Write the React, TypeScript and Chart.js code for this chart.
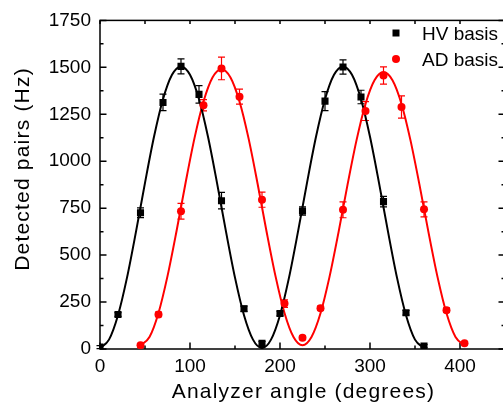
import React, { useEffect, useRef } from 'react';
import { Chart, registerables } from 'chart.js';

Chart.register(...registerables);

// Measured data (HV basis, black squares)
const hvAngles = [0, 20, 45, 70, 90, 110, 135, 160, 180, 200, 225, 250, 270, 290, 315, 340, 360];
const hvCounts = [10, 184, 726, 1313, 1505, 1356, 790, 214, 30, 189, 735, 1320, 1502, 1342, 785, 193, 16];
const hvErrors = [8, 10, 26, 44, 40, 47, 44, 14, 10, 12, 22, 51, 38, 36, 28, 12, 8];

// Measured data (AD basis, red circles)
const adAngles = [45, 65, 90, 115, 135, 155, 180, 205, 225, 245, 270, 295, 315, 335, 360, 385, 405];
const adCounts = [20, 184, 734, 1298, 1494, 1344, 795, 242, 60, 217, 741, 1267, 1457, 1289, 744, 207, 30];
const adErrors = [8, 12, 42, 30, 60, 40, 40, 20, 10, 12, 42, 50, 46, 59, 40, 12, 8];

// Fit curves
const hvFitAngles = [0, 10, 20, 30, 40, 50, 60, 70, 80, 90, 100, 110, 120, 130, 140, 150, 160, 170, 180, 190, 200, 210, 220, 230, 240, 250, 260, 270, 280, 290, 300, 310, 320, 330, 340, 350, 360];
const hvFitCounts = [5, 50, 180, 380, 625, 885, 1130, 1330, 1460, 1505, 1460, 1330, 1130, 885, 625, 380, 180, 50, 5, 50, 180, 380, 625, 885, 1130, 1330, 1460, 1505, 1460, 1330, 1130, 885, 625, 380, 180, 50, 5];

const adFitAngles = [45, 55, 65, 75, 85, 95, 105, 115, 125, 135, 145, 155, 165, 175, 185, 195, 205, 215, 225, 235, 245, 255, 265, 275, 285, 295, 305, 315, 325, 335, 345, 355, 365, 375, 385, 395, 405];
const adFitCounts = [20, 64, 192, 388, 627, 883, 1123, 1318, 1446, 1490, 1446, 1318, 1123, 883, 627, 388, 192, 64, 20, 64, 190, 384, 621, 874, 1111, 1305, 1431, 1475, 1431, 1305, 1111, 874, 621, 384, 190, 64, 20];

// Axis ticks
const xMajorTicks = [0, 100, 200, 300, 400];
const xMinorTicks = [50, 150, 250, 350, 450];
const yMajorTicks = [0, 250, 500, 750, 1000, 1250, 1500, 1750];
const yMinorTicks = [125, 375, 625, 875, 1125, 1375, 1625];

const legendLabels = ['HV basis', 'AD basis'];
const xTitle = 'Analyzer angle (degrees)';
const yTitle = 'Detected pairs (Hz)';

const FONT = "'Liberation Sans', Arial, Helvetica, sans-serif";

const toPts = (xs: number[], ys: number[]) => xs.map((x, i) => ({ x, y: ys[i] }));

const framePlugin = {
  id: 'frameTicks',
  beforeDatasetsDraw(chart: any) {
    const { ctx, chartArea, scales } = chart;
    const { left, right, top, bottom } = chartArea;
    const x = scales.x;
    const y = scales.y;
    ctx.save();
    ctx.strokeStyle = '#000';
    ctx.lineWidth = 1.5;
    ctx.strokeRect(left, top, right - left, bottom - top);
    ctx.beginPath();
    const major = 6.5;
    const minor = 3.5;
    for (const v of xMajorTicks) {
      const px = x.getPixelForValue(v);
      ctx.moveTo(px, bottom); ctx.lineTo(px, bottom - major);
      ctx.moveTo(px, top); ctx.lineTo(px, top + minor);
    }
    for (const v of xMinorTicks) {
      const px = x.getPixelForValue(v);
      ctx.moveTo(px, bottom); ctx.lineTo(px, bottom - minor);
      ctx.moveTo(px, top); ctx.lineTo(px, top + minor);
    }
    for (const v of yMajorTicks) {
      const py = y.getPixelForValue(v);
      ctx.moveTo(left, py); ctx.lineTo(left + major, py);
      ctx.moveTo(right, py); ctx.lineTo(right - major, py);
    }
    for (const v of yMinorTicks) {
      const py = y.getPixelForValue(v);
      ctx.moveTo(left, py); ctx.lineTo(left + minor, py);
      ctx.moveTo(right, py); ctx.lineTo(right - minor, py);
    }
    ctx.stroke();

    // error bars
    const drawErr = (xs: number[], ys: number[], es: number[], color: string) => {
      ctx.strokeStyle = color;
      ctx.lineWidth = 1.2;
      ctx.beginPath();
      xs.forEach((xv, i) => {
        const px = x.getPixelForValue(xv);
        const p1 = y.getPixelForValue(ys[i] + es[i]);
        const p2 = y.getPixelForValue(Math.max(0, ys[i] - es[i]));
        ctx.moveTo(px, p1); ctx.lineTo(px, p2);
        ctx.moveTo(px - 3.5, p1); ctx.lineTo(px + 3.5, p1);
        ctx.moveTo(px - 3.5, p2); ctx.lineTo(px + 3.5, p2);
      });
      ctx.stroke();
    };
    drawErr(hvAngles, hvCounts, hvErrors, '#000');
    drawErr(adAngles, adCounts, adErrors, '#ff0000');
    ctx.restore();
  },
  afterDraw(chart: any) {
    const { ctx, chartArea } = chart;
    ctx.save();
    // axis titles
    ctx.fillStyle = '#000';
    ctx.font = `21px ${FONT}`;
    (ctx as any).letterSpacing = '1.2px';
    ctx.textAlign = 'center';
    ctx.textBaseline = 'alphabetic';
    ctx.fillText(xTitle, (chartArea.left + chartArea.right) / 2 + 1, 398);
    ctx.save();
    ctx.translate(29, 169);
    ctx.rotate(-Math.PI / 2);
    ctx.fillText(yTitle, 0, 0);
    ctx.restore();
    (ctx as any).letterSpacing = '0px';

    // legend
    ctx.font = `19px ${FONT}`;
    ctx.textAlign = 'left';
    ctx.fillStyle = '#000';
    ctx.fillRect(392.5, 29.5, 7, 7);
    ctx.fillText(legendLabels[0], 422, 40);
    ctx.fillStyle = '#ff0000';
    ctx.beginPath();
    ctx.arc(396, 59, 4, 0, Math.PI * 2);
    ctx.fill();
    ctx.fillStyle = '#000';
    ctx.fillText(legendLabels[1], 422, 66);
    ctx.restore();
  },
};

export default function App() {
  const ref = useRef<HTMLCanvasElement | null>(null);
  useEffect(() => {
    if (!ref.current) return;
    Chart.defaults.font.family = FONT;
    Chart.defaults.color = '#000';
    const chart = new Chart(ref.current, {
      type: 'scatter',
      data: {
        datasets: [
          {
            label: 'HV basis',
            data: toPts(hvAngles, hvCounts),
            pointStyle: 'rect',
            pointRadius: 5,
            backgroundColor: '#000',
            borderColor: '#000',
            borderWidth: 0,
            showLine: false,
          },
          {
            label: 'AD basis',
            data: toPts(adAngles, adCounts),
            pointStyle: 'circle',
            pointRadius: 4,
            backgroundColor: '#ff0000',
            borderColor: '#ff0000',
            borderWidth: 0,
            showLine: false,
          },
          {
            label: 'HV fit',
            data: toPts(hvFitAngles, hvFitCounts),
            showLine: true,
            borderColor: '#000',
            borderWidth: 2,
            pointRadius: 0,
            cubicInterpolationMode: 'monotone',
            fill: false,
          },
          {
            label: 'AD fit',
            data: toPts(adFitAngles, adFitCounts),
            showLine: true,
            borderColor: '#ff0000',
            borderWidth: 2,
            pointRadius: 0,
            cubicInterpolationMode: 'monotone',
            fill: false,
          },
        ],
      } as any,
      options: {
        animation: false,
        responsive: false,
        devicePixelRatio: 1,
        layout: { padding: { top: 19, right: 15, left: 0, bottom: 0 } },
        plugins: { legend: { display: false }, tooltip: { enabled: false } },
        scales: {
          x: {
            type: 'linear',
            min: 0,
            max: 450,
            grid: { display: false, drawTicks: false },
            border: { display: false },
            afterBuildTicks: (s: any) => { s.ticks = xMajorTicks.map((v) => ({ value: v })); },
            ticks: {
              padding: 6,
              maxRotation: 0,
              autoSkip: false,
              font: { size: 19, family: FONT },
              color: '#000',
              callback: (v: any) => String(v),
            },
            title: { display: false },
            afterFit: (s: any) => { s.height = 57; },
          },
          y: {
            type: 'linear',
            min: 0,
            max: 1750,
            grid: { display: false, drawTicks: false },
            border: { display: false },
            afterBuildTicks: (s: any) => { s.ticks = yMajorTicks.map((v) => ({ value: v })); },
            ticks: {
              padding: 9,
              autoSkip: false,
              font: { size: 19, family: FONT },
              color: '#000',
              callback: (v: any) => String(v),
            },
            title: { display: false },
            afterFit: (s: any) => { s.width = 100; },
          },
        },
      } as any,
      plugins: [framePlugin],
    });
    return () => chart.destroy();
  }, []);
  return (
    <div style={{ position: 'absolute', left: 0, top: 0, width: 503, height: 406, overflow: 'hidden', background: '#fff' }}>
      <canvas ref={ref} width={520} height={406} style={{ display: 'block', width: 520, height: 406 }} />
    </div>
  );
}
